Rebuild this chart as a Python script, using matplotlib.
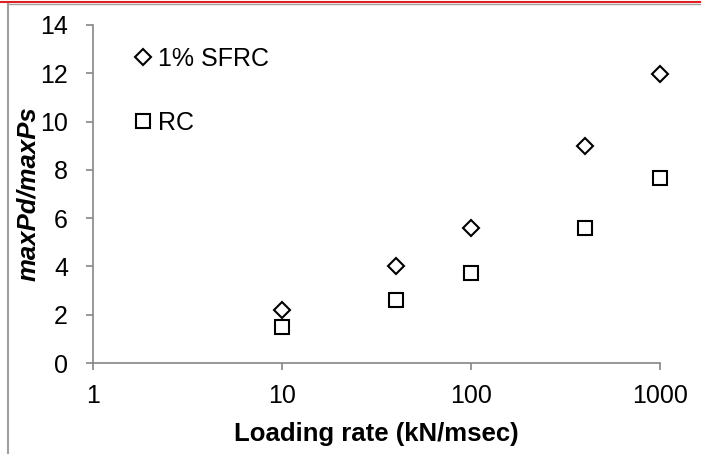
import matplotlib
matplotlib.use('Agg')
import matplotlib.pyplot as plt
from matplotlib.lines import Line2D

# loading rates (kN/msec) and dynamic/static peak load ratios
loading_rate = [10, 40, 100, 400, 1000]
sfrc_ratio = [2.2, 4.0, 5.6, 9.0, 11.95]
rc_ratio = [1.5, 2.6, 3.73, 5.6, 7.65]

x_ticks = [1, 10, 100, 1000]
x_tick_labels = ['1', '10', '100', '1000']
y_ticks = [0, 2, 4, 6, 8, 10, 12, 14]

plt.rcParams['font.family'] = ['Liberation Sans', 'DejaVu Sans']

fig = plt.figure(figsize=(7.01, 4.54), dpi=100)
ax = fig.add_axes([0.1327, 0.2004, 0.8088, 0.7446])

ax.plot(loading_rate, sfrc_ratio, linestyle='none', marker='D', markersize=8.3,
        markerfacecolor='white', markeredgecolor='black', markeredgewidth=1.5,
        label='1% SFRC', clip_on=False)
ax.plot(loading_rate, rc_ratio, linestyle='none', marker='s', markersize=9.5,
        markerfacecolor='white', markeredgecolor='black', markeredgewidth=1.5,
        label='RC', clip_on=False)

ax.set_xscale('log')
ax.set_xlim(1, 1000)
ax.set_ylim(0, 14)
ax.set_xticks(x_ticks)
ax.set_xticklabels(x_tick_labels)
ax.set_yticks(y_ticks)
ax.minorticks_off()

axis_gray = '#868686'
for side in ['top', 'right']:
    ax.spines[side].set_visible(False)
for side in ['left', 'bottom']:
    ax.spines[side].set_color(axis_gray)
    ax.spines[side].set_linewidth(1.2)
ax.tick_params(axis='both', direction='out', length=5, width=1.2, color=axis_gray,
               labelsize=18, labelcolor='black')
ax.tick_params(axis='x', pad=10)
ax.tick_params(axis='y', pad=13)

ax.set_xlabel('Loading rate (kN/msec)', fontsize=18.5, fontweight='bold', labelpad=10)
ax.set_ylabel('maxPd/maxPs', fontsize=18.5, fontweight='bold', style='italic', labelpad=0)

ax.legend(loc='upper left', bbox_to_anchor=(0.057, 0.965), frameon=False, fontsize=18,
          handlelength=0.6, handletextpad=0.3, labelspacing=1.6, borderaxespad=0)

# page border lines around the chart
fig.add_artist(Line2D([0, 1], [1 - 1.5 / 454, 1 - 1.5 / 454], color='#e02020', linewidth=1.5))
fig.add_artist(Line2D([8 / 701, 1], [1 - 3.5 / 454, 1 - 3.5 / 454], color='#a0a0a0', linewidth=1))
fig.add_artist(Line2D([8 / 701, 8 / 701], [0, 1 - 3.5 / 454], color='#a0a0a0', linewidth=1.5))

fig.savefig('out.png', dpi=100)
